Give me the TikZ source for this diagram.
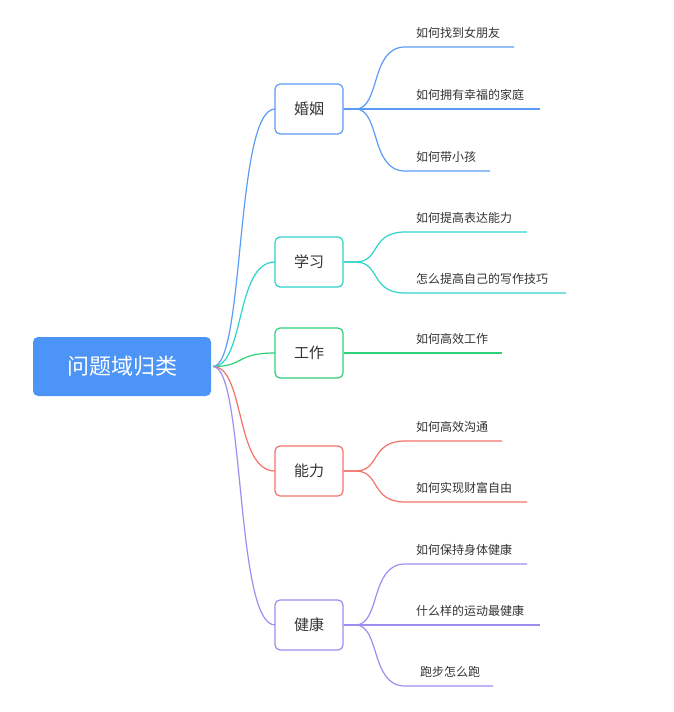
\documentclass[tikz,border=0pt]{standalone}
\usepackage{fontspec}
\usetikzlibrary{calc}
\setmainfont{Noto Sans CJK SC}
\definecolor{cb}{HTML}{5B9BF5}
\definecolor{cc}{HTML}{2ED3CC}
\definecolor{cg}{HTML}{2ED07A}
\definecolor{cr}{HTML}{F4726A}
\definecolor{cp}{HTML}{9D8DF1}
\definecolor{rootc}{HTML}{4D94F7}
\definecolor{txt}{HTML}{333333}
\tikzset{
  br/.style={draw=#1,line width=1.2pt,rounded corners=5pt,fill=white,minimum width=68pt,minimum height=50pt,font=\fontsize{15}{18}\selectfont,text=txt},
  lf/.style={anchor=south west,inner sep=0pt,font=\fontsize{12}{14}\selectfont,text=txt},
  ln/.style={draw=#1,line width=1.2pt}
}
\begin{document}
\begin{tikzpicture}[x=1pt,y=-1pt]
\useasboundingbox (0,0) rectangle (673,712);
\node[fill=rootc,rounded corners=5pt,minimum width=178pt,minimum height=59pt,text=white,font=\fontsize{22}{26}\selectfont] (root) at (122,366.5) {问题域归类};
\coordinate (r) at (213,366.5);
\foreach \n/\t/\y/\c in {a/婚姻/109/cb,b/学习/262/cc,c/工作/353/cg,d/能力/471/cr,e/健康/625/cp}{
  \draw[ln=\c] (r) .. controls (245,366.5) and (235,\y) .. (275,\y);
}
\foreach \n/\t/\y/\c in {a/婚姻/109/cb,b/学习/262/cc,c/工作/353/cg,d/能力/471/cr,e/健康/625/cp}{
  \node[br=\c] (\n) at (309,\y) {\t};
}
\foreach \p/\ly/\e/\tx/\t/\c in {
  a/47/514/416/如何找到女朋友/cb, a/109/540/416/如何拥有幸福的家庭/cb, a/171/490/416/如何带小孩/cb,
  b/232/527/416/如何提高表达能力/cc, b/293/566/416/怎么提高自己的写作技巧/cc,
  c/353/502/416/如何高效工作/cg,
  d/441/502/416/如何高效沟通/cr, d/502/527/416/如何实现财富自由/cr,
  e/564/527/416/如何保持身体健康/cp, e/625/540/416/什么样的运动最健康/cp, e/686/493/420/跑步怎么跑/cp}{
  \coordinate (s) at ($(\p.east)+(12,0)$);
  \coordinate (t) at (\e,\ly);
  \draw[ln=\c] (\p.east) -- (s) .. controls ++(25,0) and (370,\ly) .. (405,\ly) -- (t);
  \node[lf] at (\tx,\ly-8) {\t};
}
\end{tikzpicture}
\end{document}
